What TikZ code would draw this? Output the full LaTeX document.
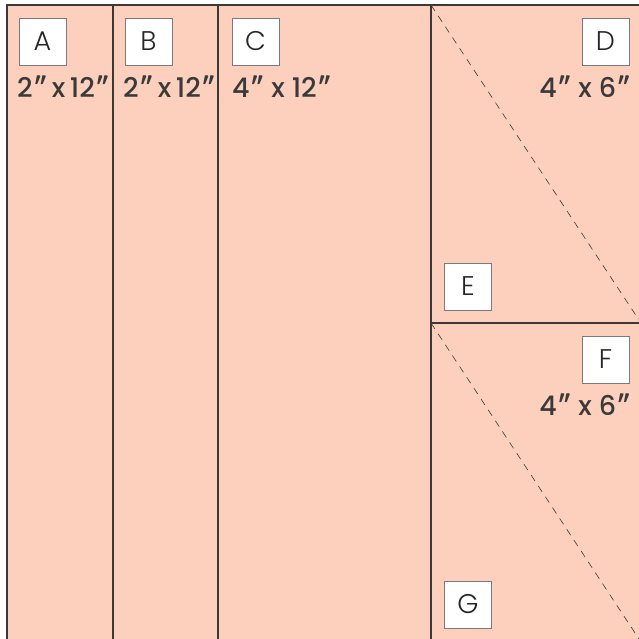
\documentclass[tikz,border=0pt]{standalone}
\usepackage{fontspec}
\setmainfont{Poppins}
\newfontfamily\dimfont{Poppins Medium}
\newfontfamily\letfont{Poppins Light}
\newfontfamily\primefont{Lato}
\newcommand\inch{{\primefont\bfseries ″}}
\usepackage{tikz}
\definecolor{panel}{HTML}{FCD0BC}
\definecolor{seam}{HTML}{3C3838}
\definecolor{boxline}{HTML}{7A7A7A}
\definecolor{ink}{HTML}{3A3A3A}
\tikzset{
    letterbox/.style={draw=boxline, line width=0.9pt, fill=white,
        minimum width=47pt, minimum height=47pt, inner sep=0pt,
        font=\letfont\fontsize{27}{27}\selectfont, text=black!85},
    dimtext/.style={font=\dimfont\fontsize{27}{27}\selectfont, text=ink, inner sep=0pt},
    cutline/.style={seam, dash pattern=on 7pt off 6pt, line width=0.6pt}
}

\begin{document}
\begin{tikzpicture}[x=1pt,y=-1pt]
    \useasboundingbox (0,0) rectangle (639,639);
    \fill[white] (0,0) rectangle (639,639);
    \fill[panel] (7,5) rectangle (639,639);

    % strips and the two halves on the right
    \draw[seam, line width=1.1pt] (7,639) -- (7,5) -- (639,5);
    \foreach \xcut in {113,218,431}
        \draw[seam, line width=1.1pt] (\xcut,5) -- (\xcut,639);
    \draw[seam, line width=1.1pt] (431,323) -- (639,323);

    % diagonal cuts
    \draw[cutline] (431,5) -- (639,320);
    \draw[cutline] (431,323) -- (639,639);

    % labels
    \node[letterbox] (labA) at (42.5,41.5) {A};
    \node[letterbox] (labB) at (148.5,41.5) {B};
    \node[letterbox] (labC) at (255.5,41.5) {C};
    \node[letterbox] (labD) at (605.5,41.5) {D};
    \node[letterbox] (labE) at (468,286.5) {E};
    \node[letterbox] (labF) at (605.5,359.5) {F};
    \node[letterbox] (labG) at (468,604.5) {G};

    \node[dimtext, anchor=west] (dimA) at (17,87) {2\inch\,x\,12\inch};
    \node[dimtext, anchor=west] (dimB) at (123,87) {2\inch\,x\,12\inch};
    \node[dimtext, anchor=west] (dimC) at (232,87) {4\inch{} x 12\inch};
    \node[dimtext, anchor=east] (dimD) at (631,87) {4\inch{} x 6\inch};
    \node[dimtext, anchor=east] (dimF) at (631,405) {4\inch{} x 6\inch};
\end{tikzpicture}
\end{document}
